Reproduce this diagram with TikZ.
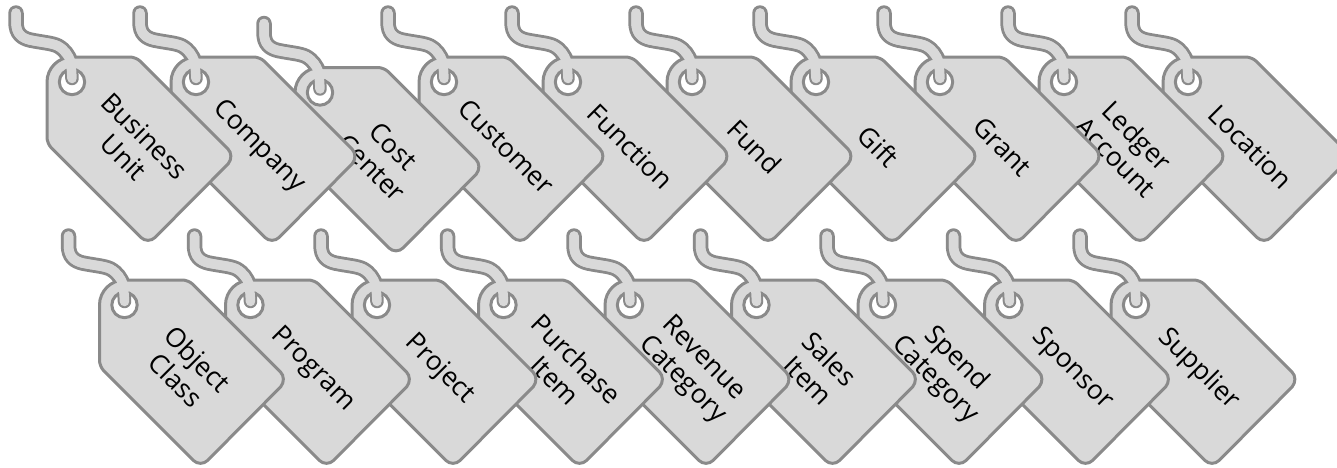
\documentclass[tikz,border=0pt]{standalone}
\usepackage{fontspec}
\setmainfont{Open Sans}
\definecolor{tagline}{HTML}{8A8A8A}
\definecolor{tagfill}{HTML}{D9D9D9}
\tikzset{
  x=1pt,y=-1pt,
  tagbody/.style={draw=tagline,fill=tagfill,line width=3pt,line join=round},
  tagring/.style={draw=tagline,fill=white,line width=3pt},
  stringout/.style={draw=tagline,line width=15.5pt,line cap=round},
  stringin/.style={draw=tagfill,line width=9.5pt,line cap=round},
  taglabel/.style={rotate=-45,align=center,inner sep=0pt,text=black,
    font=\fontsize{26.5}{30}\selectfont},
  pics/pricetag/.style n args={2}{code={
    \def\stringpath{(-56,-69) -- (-56,-60) .. controls (-56,-48) and (-50,-44) .. (-42,-42) .. controls (-30,-39.5) and (-20,-39) .. (-14,-36) .. controls (-7,-32) and (-4,-27) .. (-1,-20) -- (0,-3.5)}
    \draw[stringout] \stringpath;
    \draw[stringin] \stringpath;
    \path[tagbody] (10,-25) -- (58,-25) .. controls (61.3,-25) and (65.9,-23.1) .. (68.24,-20.76)
      -- (155.93,66.93) .. controls (159.8,70.8) and (159.8,77.2) .. (156.2,81.8)
      -- (83.07,155.43) .. controls (79.2,159.3) and (72.8,159.3) .. (68.93,155.43)
      -- (-20.76,65.74) .. controls (-23.1,63.4) and (-25,58.8) .. (-25,55.5)
      -- (-25,0) .. controls (-25,-13.8) and (-13.8,-25) .. (0,-25) -- cycle;
    \path[tagring] (0,0) circle[radius=12.7pt];
    \begin{scope}
      \clip (0,0) circle[radius=14.2pt];
      \draw[stringout,line width=13.5pt] \stringpath;
    \end{scope}
    \draw[stringin] \stringpath;
    \node (#1) at (62.5,64.5) [taglabel] {#2};
  }}
}
\begin{document}
\begin{tikzpicture}
\useasboundingbox (0,0) rectangle (1337,467);
\pic at (1136,305) {pricetag={t19}{Supplier}};
\pic at (1009.5,305) {pricetag={t18}{Sponsor}};
\pic at (883,305) {pricetag={t17}{Spend\\Category}};
\pic at (756.5,305) {pricetag={t16}{Sales\\Item}};
\pic at (630,305) {pricetag={t15}{Revenue\\Category}};
\pic at (503.5,305) {pricetag={t14}{Purchase\\Item}};
\pic at (377,305) {pricetag={t13}{Project}};
\pic at (250.5,305) {pricetag={t12}{Program}};
\pic at (124.5,305) {pricetag={t11}{Object\\Class}};
\pic at (1188,82) {pricetag={t10}{Location}};
\pic at (1064,82) {pricetag={t9}{Ledger\\Account}};
\pic at (940,82) {pricetag={t8}{Grant}};
\pic at (816,82) {pricetag={t7}{Gift}};
\pic at (692,82) {pricetag={t6}{Fund}};
\pic at (568,82) {pricetag={t5}{Function}};
\pic at (444,82) {pricetag={t4}{Customer}};
\pic at (320,92.5) {pricetag={t3}{Cost\\Center}};
\pic at (196,82) {pricetag={t2}{Company}};
\pic at (72,82) {pricetag={t1}{Business\\Unit}};
\end{tikzpicture}
\end{document}
